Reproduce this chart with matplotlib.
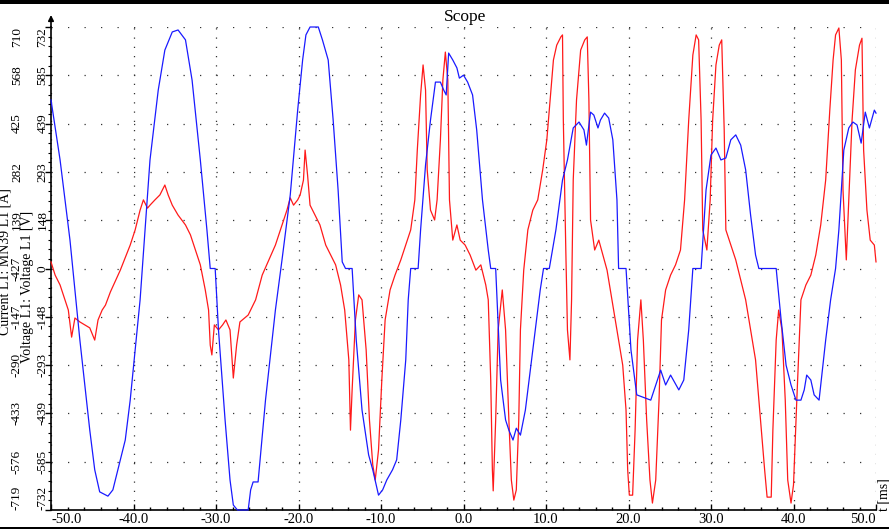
import matplotlib
matplotlib.use('Agg')
import matplotlib.pyplot as plt
from matplotlib.patches import Rectangle
import numpy as np

# time [ms] and value of the blue trace (current)
blue_t = [-50.0, -48.9, -47.7, -47.1, -46.5, -45.3, -44.7, -44.1, -43.1, -42.5,
          -41.6, -41.0, -40.4, -39.2, -38.6, -38.0, -37.0, -36.2, -35.3, -34.6,
          -33.7, -32.9, -31.9, -31.1, -30.7, -30.1, -29.7, -28.9, -28.3, -27.9,
          -27.4, -26.1, -25.8, -25.5, -24.9, -24.0, -22.8, -22.0, -21.0, -20.1,
          -19.5, -19.1, -18.6, -17.6, -17.1, -16.4, -15.8, -15.2, -14.7, -14.3,
          -13.5, -13.0, -12.3, -11.5, -11.0, -10.3, -9.8, -9.3, -8.6, -8.1,
          -7.6, -7.0, -6.7, -6.4, -5.5, -5.2, -4.6, -4.0, -3.4, -2.8,
          -2.4, -2.1, -1.8, -1.3, -0.8, -0.5, 0.0, 0.5, 1.1, 1.6,
          2.3, 3.0, 3.3, 3.9, 4.5, 5.1, 5.5, 6.0, 6.4, 6.9,
          7.5, 8.1, 8.7, 9.3, 9.7, 10.4, 11.2, 12.0, 12.6, 13.3,
          14.0, 14.6, 14.9, 15.2, 15.4, 15.8, 16.3, 16.6, 17.1, 17.6,
          18.1, 18.6, 18.8, 19.7, 20.3, 21.0, 22.7, 23.3, 23.9, 24.5,
          25.1, 26.1, 26.7, 27.3, 27.8, 28.8, 29.4, 30.0, 30.6, 31.2,
          31.8, 32.4, 33.0, 33.6, 34.2, 34.8, 35.4, 35.8, 37.9, 38.5,
          39.1, 39.7, 40.3, 40.9, 41.3, 41.6, 42.1, 42.5, 43.1, 43.9,
          44.5, 45.1, 45.5, 46.1, 46.7, 47.2, 47.7, 48.2, 48.7, 49.2,
          49.8, 50.0]
blue_v = [511, 329, 86, -65, -217, -490, -610, -677, -690, -671,
          -580, -520, -399, -95, 117, 329, 541, 662, 717, 723,
          693, 571, 329, 117, 0, 0, -186, -459, -641, -717,
          -732, -732, -671, -647, -647, -399, -126, 26, 223, 480,
          632, 708, 732, 732, 693, 632, 450, 238, 20, 0,
          0, -217, -429, -565, -610, -687, -671, -641, -610, -580,
          -459, -277, -95, 0, 0, 117, 314, 450, 565, 565,
          541, 526, 653, 632, 608, 577, 586, 565, 526, 420,
          208, 56, 0, 0, -338, -459, -490, -520, -484, -505,
          -429, -308, -186, -65, 0, 0, 117, 268, 329, 426,
          444, 420, 374, 435, 474, 465, 426, 450, 471, 456,
          390, 208, 0, 0, -247, -383, -399, -353, -308, -353,
          -323, -368, -338, -186, 0, 0, 238, 344, 365, 329,
          335, 390, 405, 374, 299, 162, 41, 0, 0, -156,
          -293, -353, -399, -399, -368, -323, -338, -383, -399, -217,
          -95, 0, 117, 359, 426, 444, 435, 380, 474, 426,
          480, 471]

# time [ms] and value of the red trace (voltage)
red_t = [-50.0, -49.5, -48.9, -48.3, -47.9, -47.5, -47.1, -46.5, -45.9, -45.3,
         -44.7, -44.3, -43.8, -43.4, -42.8, -41.6, -40.4, -39.8, -39.2, -38.8,
         -38.3, -38.0, -37.4, -36.8, -36.2, -35.8, -35.3, -34.6, -33.7, -33.1,
         -32.5, -31.9, -31.3, -30.9, -30.7, -30.5, -30.2, -29.7, -29.2, -28.8,
         -28.3, -27.9, -27.5, -27.1, -26.1, -25.2, -24.4, -23.7, -22.8, -22.0,
         -21.4, -21.0, -20.6, -20.1, -19.8, -19.4, -19.2, -18.9, -18.6, -18.0,
         -17.4, -16.7, -16.1, -15.5, -14.9, -14.4, -13.9, -13.7, -13.5, -13.1,
         -12.7, -12.3, -11.8, -11.4, -11.0, -10.7, -10.3, -9.9, -9.5, -8.9,
         -8.3, -7.6, -7.0, -6.4, -5.9, -5.6, -5.2, -4.9, -4.6, -4.4,
         -4.0, -3.5, -3.2, -2.8, -2.5, -2.2, -1.9, -1.7, -1.3, -0.8,
         -0.4, 0.2, 0.8, 1.5, 2.1, 2.7, 3.0, 3.3, 3.5, 3.6,
         3.9, 4.2, 4.7, 5.1, 5.5, 5.8, 6.1, 6.4, 6.7, 6.9,
         7.3, 7.8, 8.4, 9.0, 9.6, 10.1, 10.6, 10.9, 11.3, 11.8,
         12.0, 12.1, 12.4, 12.6, 12.9, 13.1, 13.3, 13.7, 14.2, 14.7,
         15.0, 15.2, 15.4, 15.9, 16.4, 16.9, 17.4, 17.8, 18.3, 18.8,
         19.3, 19.7, 19.9, 20.1, 20.5, 20.8, 21.1, 21.5, 21.8, 22.2,
         22.6, 22.9, 23.3, 23.7, 24.0, 24.5, 25.1, 25.7, 26.3, 26.8,
         27.3, 27.8, 28.2, 28.5, 28.8, 29.0, 29.5, 29.9, 30.2, 30.6,
         31.0, 31.3, 31.6, 31.8, 32.4, 33.0, 33.6, 34.2, 34.8, 35.4,
         36.0, 36.5, 36.8, 37.3, 37.5, 37.9, 38.2, 38.6, 39.0, 39.3,
         39.7, 40.0, 40.4, 40.9, 41.5, 42.1, 42.7, 43.3, 43.9, 44.4,
         44.8, 45.1, 45.5, 45.8, 46.0, 46.4, 46.7, 47.1, 47.5, 48.0,
         48.3, 48.5, 48.9, 49.3, 49.8, 50.0]
red_v = [20, -20, -50, -95, -126, -208, -150, -162, -171, -180,
         -217, -156, -126, -111, -71, -5, 71, 117, 177, 208,
         183, 192, 208, 223, 253, 223, 192, 162, 132, 102,
         56, 11, -65, -126, -232, -262, -171, -186, -171, -156,
         -186, -332, -232, -162, -141, -95, -20, 20, 71, 132,
         177, 214, 192, 208, 223, 268, 359, 283, 192, 162,
         132, 71, 41, 11, -50, -126, -277, -490, -368, -156,
         -80, -95, -247, -459, -595, -641, -550, -338, -156, -65,
         -20, 26, 71, 117, 208, 359, 526, 617, 541, 299,
         177, 147, 208, 390, 571, 656, 571, 208, 86, 132,
         86, 71, 41, -5, 11, -50, -95, -338, -610, -674,
         -459, -186, -65, -186, -459, -641, -702, -671, -459, -186,
         -5, 117, 177, 208, 299, 390, 541, 632, 677, 702,
         708, 450, 56, -186, -277, -95, 268, 511, 662, 693,
         702, 511, 147, 56, 86, 41, -5, -65, -141, -217,
         -293, -429, -610, -687, -687, -490, -217, -95, -217, -459,
         -641, -711, -641, -399, -156, -65, -20, 11, 56, 208,
         450, 647, 708, 693, 450, 117, 56, 208, 450, 617,
         677, 693, 420, 117, 71, 26, -35, -95, -186, -277,
         -459, -610, -693, -693, -490, -217, -126, -186, -399, -641,
         -711, -656, -399, -95, -50, -20, 41, 132, 268, 480,
         632, 708, 729, 632, 238, 26, 208, 450, 602, 677,
         698, 359, 177, 86, 71, 20]

time_ticks = [-50, -40, -30, -20, -10, 0, 10, 20, 30, 40, 50]
volt_labels = ['732', '585', '439', '293', '148', '0', '-148', '-293', '-439', '-585', '-732']
curr_labels = ['710', '568', '425', '282', '139', '-427', '-147', '-290', '-433', '-576', '-719']

W, H = 889, 529
plt.rcParams['font.family'] = ['Liberation Serif', 'DejaVu Serif']

fig = plt.figure(figsize=(W / 100, H / 100), dpi=100)
ax = fig.add_axes([51 / W, 19 / H, 825 / W, 483 / H])
ax.set_xlim(-50, 50)
ax.set_ylim(-732, 732)
ax.patch.set_alpha(0)

ytick_pos = np.linspace(732, -732, len(volt_labels))

# dotted grid, dots spaced at the minor tick pitch
for t in time_ticks:
    ax.axvline(t, color='#333333', lw=0.9, ls=(0, (1, 6.4)), zorder=0)
for y in ytick_pos:
    ax.axhline(y, color='#333333', lw=0.9, ls=(0, (1, 12.2)), zorder=0)

ax.plot(red_t, red_v, color='#ff1a1a', lw=0.9, clip_on=False, zorder=3)
ax.plot(blue_t, blue_v, color='#1a1aff', lw=0.9, clip_on=False, zorder=4)

for s in ['top', 'right']:
    ax.spines[s].set_visible(False)
ax.spines['left'].set_linewidth(1.2)
ax.spines['bottom'].set_linewidth(1.2)

# x axis
ax.set_xticks(time_ticks)
ax.set_xticks(np.arange(-50, 51, 2), minor=True)
ax.set_xticklabels(['%.1f' % t for t in time_ticks], fontsize=10.5)
ax.tick_params(axis='x', which='major', direction='in', length=4, width=1, pad=2)
ax.tick_params(axis='x', which='minor', direction='in', length=2.5, width=1)
xl = ax.get_xticklabels()
xl[0].set_ha('left')
xl[-1].set_ha('right')

# y axis: ticks on spine, labels drawn as rotated text
ax.set_yticks(ytick_pos)
ax.set_yticklabels([])
ax.set_yticks(np.linspace(732, -732, 51), minor=True)
ax.tick_params(axis='y', which='major', direction='out', length=4, width=1)
ax.tick_params(axis='y', which='minor', direction='out', length=2, width=0.8)

ytr = ax.get_yaxis_transform()
for i, (y, vl, cl) in enumerate(zip(ytick_pos, volt_labels, curr_labels)):
    va = 'center'
    if i == 0:
        va = 'top'
    elif i == len(volt_labels) - 1:
        va = 'bottom'
    ax.text(-8.5 / 825, y, vl, transform=ytr, rotation=90, ha='center', va=va,
            fontsize=9.5)
    ax.text(-34 / 825, y, cl, transform=ytr, rotation=90, ha='center', va=va,
            fontsize=9.5)

fig.text(5 / W, 1 - 262 / H, 'Current L1: MN39 L1 [A]', rotation=90,
         ha='center', va='center', fontsize=10)
fig.text(27 / W, 1 - 287 / H, 'Voltage L1: Voltage L1 [V]', rotation=90,
         ha='center', va='center', fontsize=10)
fig.text(884 / W, 1 - 495 / H, 't [ms]', rotation=90, ha='center', va='center',
         fontsize=10)
fig.text(465 / W, 1 - 17 / H, 'Scope', ha='center', va='center', fontsize=12.5)

# arrow on top of the y axis
ax.annotate('', xy=(0, 1 + 12 / 483), xytext=(0, 1), xycoords='axes fraction',
            arrowprops=dict(arrowstyle='-|>', color='k', lw=1.2,
                            mutation_scale=8, shrinkA=0, shrinkB=0))

# black frame bars of the screenshot
fig.add_artist(Rectangle((0, 1 - 4 / H), 1, 4 / H, transform=fig.transFigure,
                         color='black', lw=0))
fig.add_artist(Rectangle((0, 0), 1, 2 / H, transform=fig.transFigure,
                         color='black', lw=0))

fig.savefig('out.png', dpi=100)
